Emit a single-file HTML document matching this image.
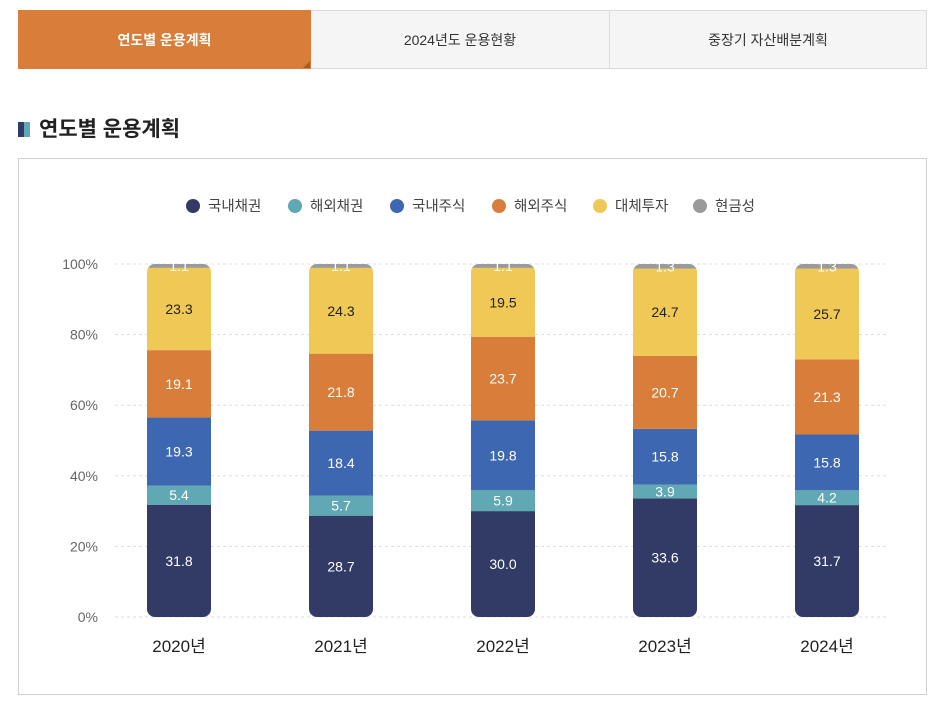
<!DOCTYPE html>
<html><head><meta charset="utf-8"><style>
body{margin:0;width:942px;height:713px;background:#fff;font-family:"Liberation Sans","Noto Sans CJK KR",sans-serif;position:relative;overflow:hidden}
.tab{position:absolute;top:10px;height:59px;line-height:59px;text-align:center;font-size:14px;color:#333;background:#f5f5f5;border:1px solid #dcdcdc;box-sizing:border-box}
.tab.on{background:#d97e3a;color:#fff;font-weight:bold;border-color:#d97e3a}
</style></head><body>
<div class="tab on" style="left:18px;width:293px">연도별 운용계획<div style="position:absolute;right:0;bottom:0;width:0;height:0;border-left:7px solid transparent;border-bottom:7px solid #a85c25"></div></div>
<div class="tab" style="left:311px;width:299px;border-left:none">2024년도 운용현황</div>
<div class="tab" style="left:609px;width:318px">중장기 자산배분계획</div>
<div style="position:absolute;left:18px;top:113px;font-size:21px;font-weight:bold;color:#222">
<span style="display:inline-block;width:6px;height:15px;background:#323b66;vertical-align:-1px"></span><span style="display:inline-block;width:6px;height:15px;background:#5fa8b4;vertical-align:-1px;margin-right:9px"></span>연도별 운용계획</div>
<div style="position:absolute;left:18px;top:158px;width:909px;height:537px;border:1px solid #d0d0d0;box-sizing:border-box"></div>
<svg id="chart" width="942" height="713" style="position:absolute;left:0;top:0"></svg>
<script>
const years=["2020년","2021년","2022년","2023년","2024년"];
const seriesNames=["국내채권","해외채권","국내주식","해외주식","대체투자","현금성"];
const domesticBond=[31.8,28.7,30.0,33.6,31.7];
const foreignBond=[5.4,5.7,5.9,3.9,4.2];
const domesticStock=[19.3,18.4,19.8,15.8,15.8];
const foreignStock=[19.1,21.8,23.7,20.7,21.3];
const alternative=[23.3,24.3,19.5,24.7,25.7];
const cash=[1.1,1.1,1.1,1.3,1.3];
const yTicks=[0,20,40,60,80,100];
const series=[domesticBond,foreignBond,domesticStock,foreignStock,alternative,cash];
const colors=["#323b66","#5fa8b4","#3d68b1","#d97e3a","#f0c855","#9a9a9a"];
const textColors=["#fff","#fff","#fff","#fff","#222","#fff"];
const svg=document.getElementById('chart');const NS="http://www.w3.org/2000/svg";
function y(v){return 617-v*3.53}
function x(i){return 179+i*162}
function mk(t,a,p){const e=document.createElementNS(NS,t);for(const k in a)e.setAttribute(k,a[k]);(p||svg).appendChild(e);return e}
yTicks.forEach(t=>{
 const l=mk('line',{x1:115,x2:887,y1:y(t),y2:y(t),stroke:'#ddd','stroke-dasharray':'3,3'});
 
 
 const tx=mk('text',{x:98,y:y(t)+5,'text-anchor':'end','font-size':14,fill:'#666'});tx.textContent=t+'%';
 
 
});
const defs=mk('defs',{});
years.forEach((yr,i)=>{
 const tot=series.reduce((s,a)=>s+a[i],0);
 const cp=mk('clipPath',{id:'c'+i},defs);
 mk('rect',{x:x(i)-32,y:y(tot),width:64,height:y(0)-y(tot),rx:8},cp);
 const g=mk('g',{'clip-path':'url(#c'+i+')'});
 
 
 let acc=0;
 series.forEach((s,k)=>{
  const r=mk('rect',{x:x(i)-32,y:y(acc+s[i]),width:64,height:y(acc)-y(acc+s[i]),fill:colors[k]},g);
  
  
  const t=mk('text',{x:x(i),y:(y(acc)+y(acc+s[i]))/2+5,'text-anchor':'middle','font-size':14,fill:textColors[k]});
  t.textContent=s[i].toFixed(1);
  
  
  acc+=s[i];
 });
 const xl=mk('text',{x:x(i),y:652,'text-anchor':'middle','font-size':17,fill:'#222'});xl.textContent=yr;
 
 
});
const lx=[186,288,390,492,593,693];
seriesNames.forEach((n,k)=>{
 const c=mk('circle',{cx:lx[k]+7,cy:206,r:7,fill:colors[k]});
 
 
 const t=mk('text',{x:lx[k]+22,y:211,'font-size':14.5,fill:'#444'});t.textContent=n;
 
 
});
</script>
</body></html>
